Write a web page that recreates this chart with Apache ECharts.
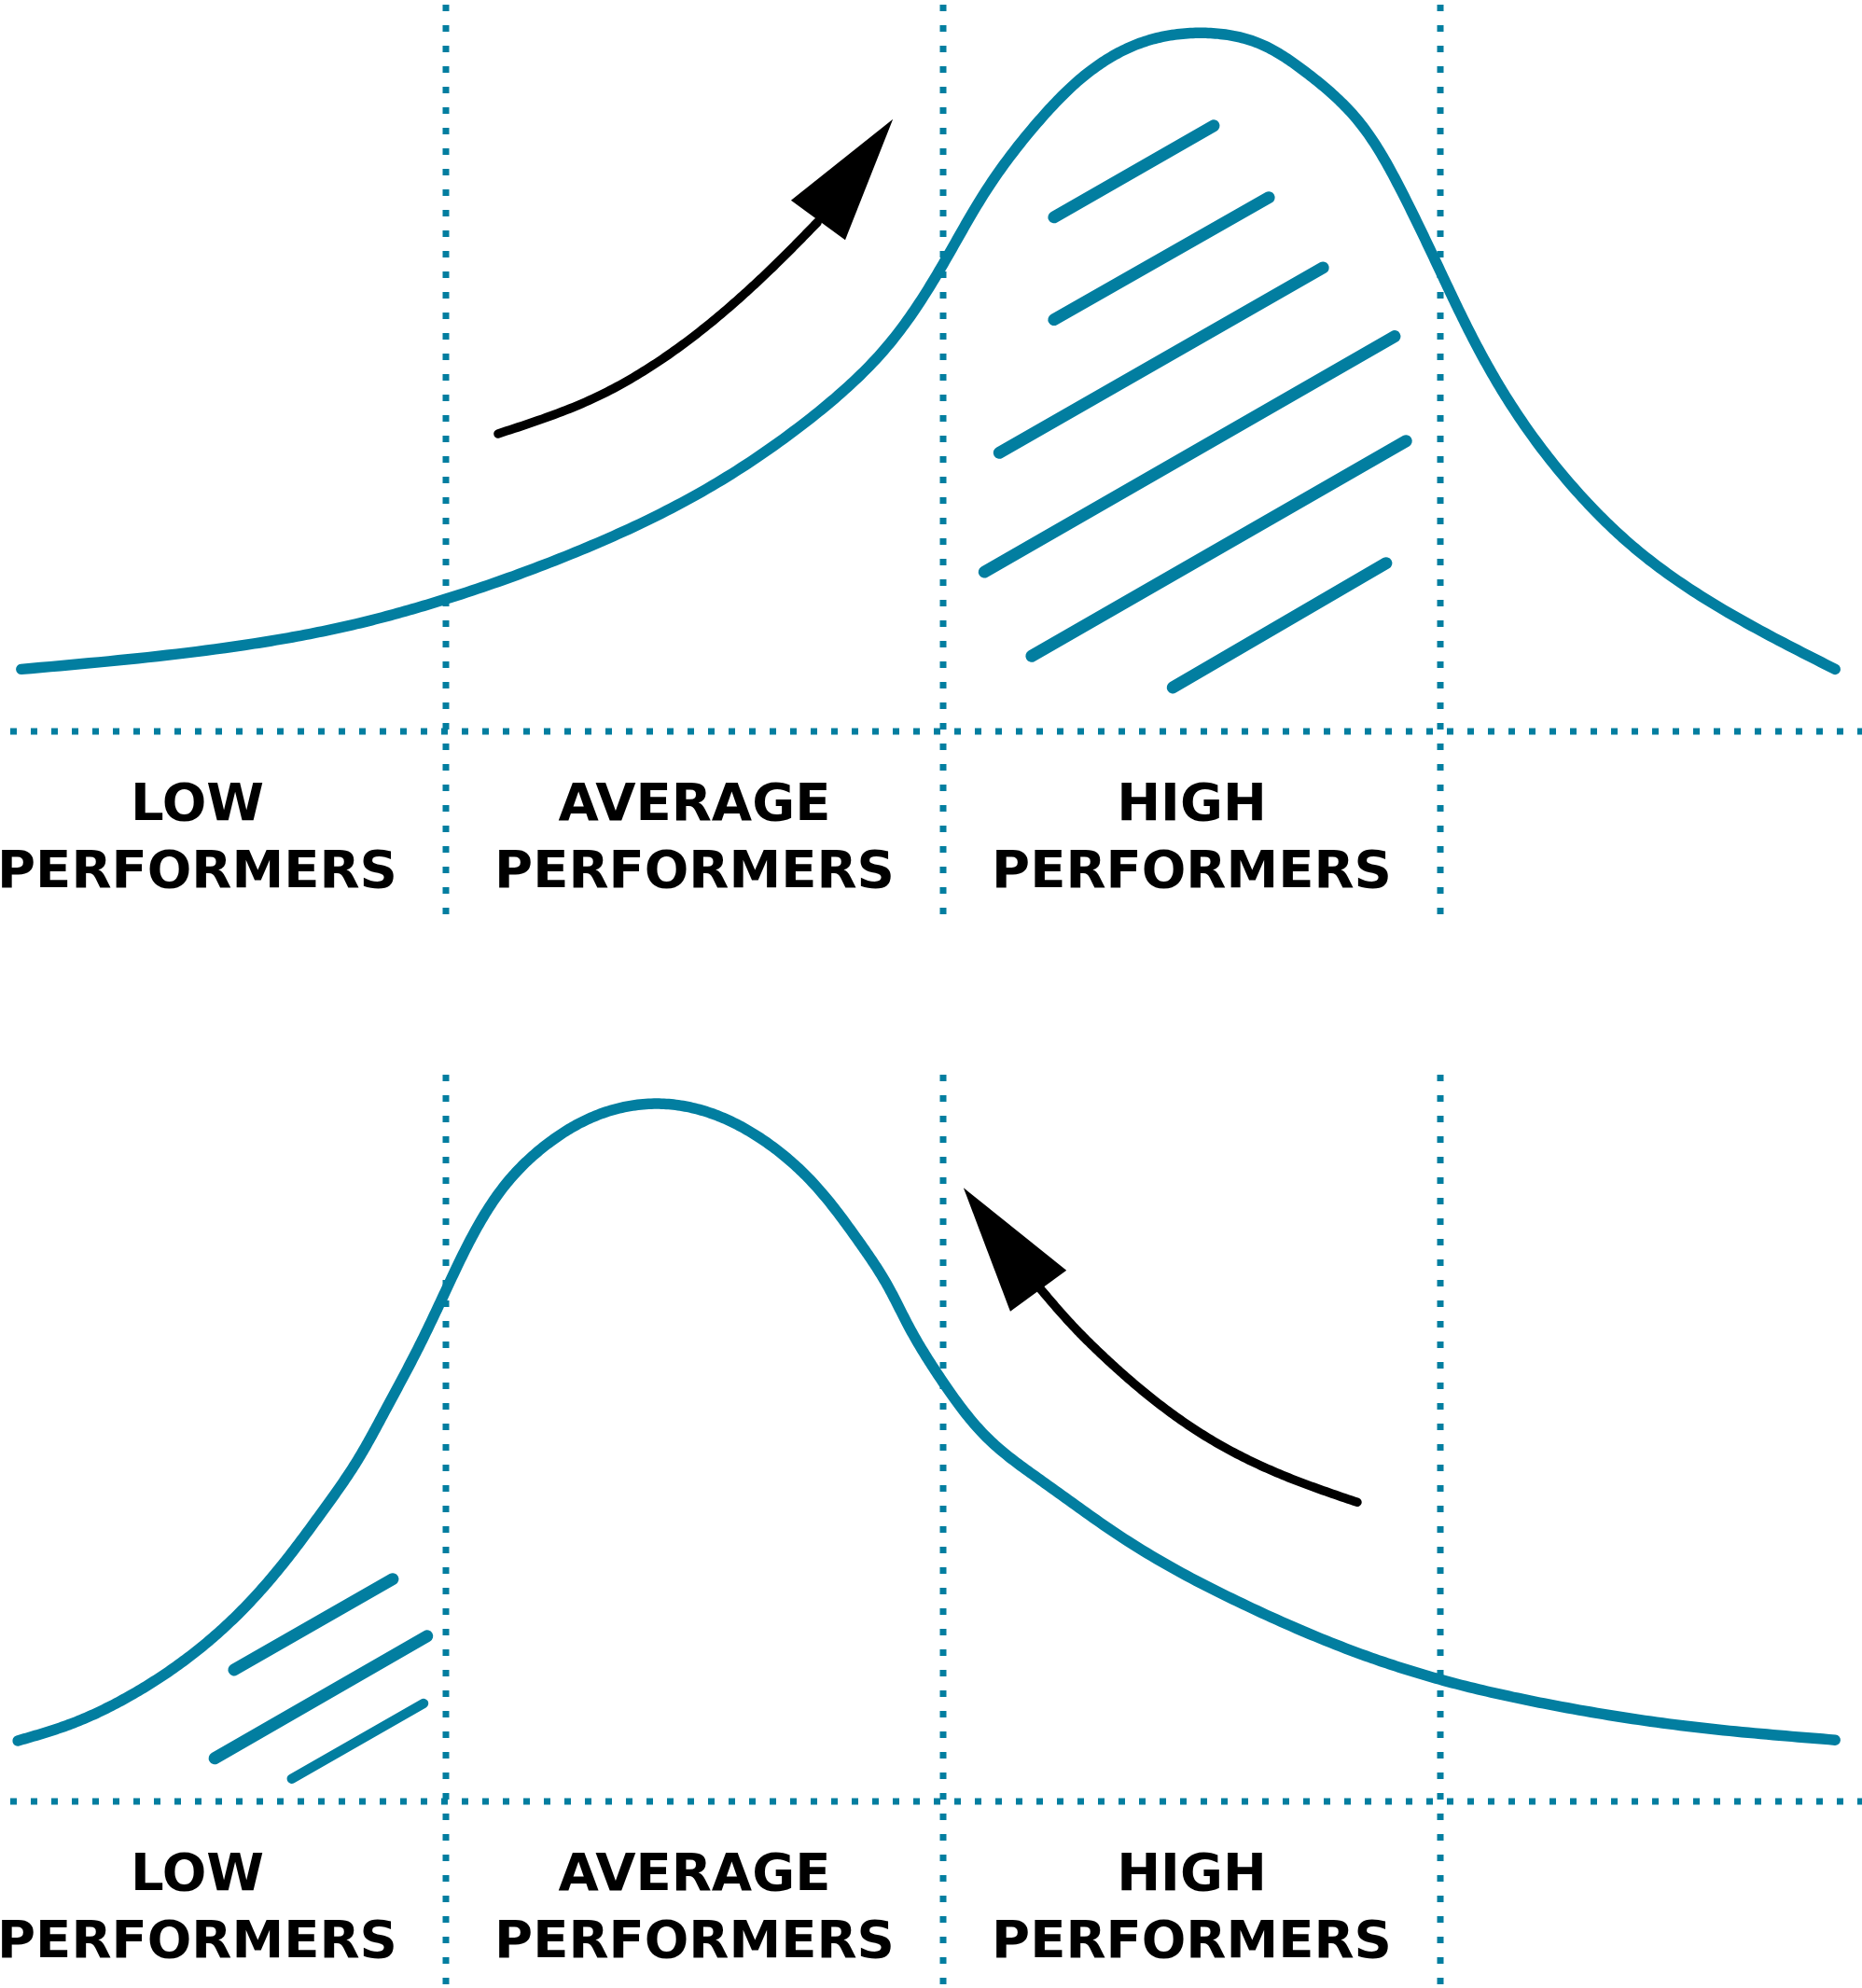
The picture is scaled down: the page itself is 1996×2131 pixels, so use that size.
<!DOCTYPE html>
<html>
<head>
<meta charset="utf-8">
<script src="https://cdn.jsdelivr.net/npm/echarts@6/dist/echarts.min.js"></script>
<style>
html,body{margin:0;padding:0;background:#fff;}
#chart{width:1996px;height:2131px;}
</style>
</head>
<body>
<div id="chart"></div>
<script>
// ---- data (x: performance band units, boundaries at 1,2,3; y: relative share) ----
const boundaries = [1, 2, 3];
const groupCenters = [0.5, 1.5, 2.5];
const groupLabels = ['LOW\nPERFORMERS', 'AVERAGE\nPERFORMERS', 'HIGH\nPERFORMERS'];

const topCurve = [
  [0.146, 8.5], [0.614, 12.0], [0.820, 14.7], [1.000, 18.1], [1.250, 24.2], [1.505, 32.4],
  [1.735, 42.9], [1.887, 52.6], [2.000, 63.9], [2.086, 73.9], [2.193, 83.5], [2.298, 90.4],
  [2.396, 94.1], [2.518, 95.5], [2.634, 94.1], [2.730, 90.1], [2.831, 83.8], [2.917, 74.5],
  [3.000, 62.9], [3.068, 53.4], [3.137, 45.2], [3.280, 32.4], [3.392, 25.0], [3.570, 16.6],
  [3.794, 8.5]
];
const bottomCurve = [
  [0.139, 8.3], [0.246, 10.6], [0.366, 14.5], [0.486, 19.9], [0.582, 25.6], [0.675, 32.7],
  [0.749, 39.4], [0.820, 46.4], [0.880, 53.7], [0.940, 61.4], [0.998, 69.6], [1.058, 77.9],
  [1.129, 85.1], [1.210, 90.2], [1.296, 93.6], [1.424, 95.4], [1.537, 94.0], [1.632, 90.7],
  [1.728, 85.3], [1.829, 76.7], [1.886, 70.8], [1.932, 64.8], [1.998, 57.5], [2.092, 49.5],
  [2.205, 43.5], [2.371, 35.6], [2.612, 26.7], [2.850, 19.9], [2.998, 16.7], [3.208, 13.4],
  [3.495, 10.3], [3.794, 8.4]
];

const topHatch = [
  [[2.223, 70.3], [2.544, 82.8]],
  [[2.223, 56.3], [2.655, 73.0]],
  [[2.113, 38.1], [2.764, 63.4]],
  [[2.083, 21.8], [2.908, 54.0]],
  [[2.178, 10.3], [2.931, 39.7]],
  [[2.462, 6.0], [2.891, 23.0]]
];
const bottomHatch = [
  [[0.574, 18.0], [0.893, 30.4]],
  [[0.535, 5.9], [0.962, 22.6]],
  [[0.690, 3.1], [0.955, 13.4]]
];
const bottomHatchWidths = [13, 13, 10.5];

const topArrowShaft = [[1.105, 40.7], [1.296, 45.5], [1.454, 51.8], [1.585, 58.9], [1.679, 64.9], [1.747, 69.6]];
const topArrowHead = [[1.899, 83.7, 1.694, 72.6, 1.803, 67.2]];
const bottomArrowShaft = [[2.833, 40.9], [2.683, 44.6], [2.538, 49.5], [2.420, 55.1], [2.325, 60.7], [2.253, 65.6], [2.193, 70.3]];
const bottomArrowHead = [[2.041, 83.9, 2.135, 67.0, 2.248, 72.6]];

// ---- styling ----
const TEAL = '#027ea0';
const X_MIN = 0.1032, X_MAX = 3.848;
const Y_MIN = -25, Y_MAX = 100;
const LABEL_Y = -14.8;

function dotted(gi, data) {
  return {
    type: 'line', xAxisIndex: gi, yAxisIndex: gi, data: data,
    showSymbol: false, silent: true, animation: false, z: 1,
    lineStyle: { color: TEAL, width: 7, type: [7, 15], cap: 'butt' }
  };
}
function straight(gi, data, color, width) {
  return {
    type: 'line', xAxisIndex: gi, yAxisIndex: gi, data: data,
    showSymbol: false, silent: true, animation: false, z: 3,
    lineStyle: { color: color, width: width, cap: 'round', join: 'round' }
  };
}
// natural cubic spline second derivatives
function splineM(t, v) {
  const n = t.length, M = new Array(n).fill(0);
  if (n < 3) return M;
  const a = [], b = [], c = [], d = [];
  for (let i = 1; i < n - 1; i++) {
    const h0 = t[i] - t[i - 1], h1 = t[i + 1] - t[i];
    a.push(h0); b.push(2 * (h0 + h1)); c.push(h1);
    d.push(6 * ((v[i + 1] - v[i]) / h1 - (v[i] - v[i - 1]) / h0));
  }
  const m = b.length;
  for (let i = 1; i < m; i++) {
    const w = a[i] / b[i - 1];
    b[i] -= w * c[i - 1]; d[i] -= w * d[i - 1];
  }
  const x = new Array(m);
  x[m - 1] = d[m - 1] / b[m - 1];
  for (let i = m - 2; i >= 0; i--) x[i] = (d[i] - c[i] * x[i + 1]) / b[i];
  for (let i = 0; i < m; i++) M[i + 1] = x[i];
  return M;
}
function evalSpline(t, v, M, i, tt) {
  const h = t[i + 1] - t[i], A = t[i + 1] - tt, B = tt - t[i];
  return M[i] * A * A * A / (6 * h) + M[i + 1] * B * B * B / (6 * h)
    + (v[i] / h - M[i] * h / 6) * A + (v[i + 1] / h - M[i + 1] * h / 6) * B;
}
// smooth curve through the data points (natural cubic spline, chord-length parameter, pixel space)
function spline(gi, data, color, width) {
  return {
    type: 'custom', xAxisIndex: gi, yAxisIndex: gi, data: data, silent: true, animation: false, z: 3,
    encode: { x: 0, y: 1 },
    renderItem: function (params, api) {
      const n = params.dataInsideLength;
      if (params.dataIndexInside !== 0) return { type: 'group', children: [] };
      const P = [];
      for (let k = 0; k < n; k++) P.push(api.coord([api.value(0, k), api.value(1, k)]));
      const t = [0];
      for (let k = 1; k < n; k++) t.push(t[k - 1] + Math.hypot(P[k][0] - P[k - 1][0], P[k][1] - P[k - 1][1]));
      const xs = P.map(p => p[0]), ys = P.map(p => p[1]);
      const Mx = splineM(t, xs), My = splineM(t, ys);
      const pts = [];
      for (let i = 0; i < n - 1; i++) {
        const steps = 24;
        for (let s = 0; s < steps; s++) {
          const tt = t[i] + (t[i + 1] - t[i]) * s / steps;
          pts.push([evalSpline(t, xs, Mx, i, tt), evalSpline(t, ys, My, i, tt)]);
        }
      }
      pts.push(P[n - 1]);
      return {
        type: 'polyline', shape: { points: pts },
        style: { stroke: color, lineWidth: width, fill: null, lineCap: 'round', lineJoin: 'round' }
      };
    }
  };
}
function head(gi, data) {
  return {
    type: 'custom', xAxisIndex: gi, yAxisIndex: gi, data: data, silent: true, animation: false, z: 4,
    encode: { x: [0, 2, 4], y: [1, 3, 5] },
    renderItem: function (params, api) {
      const p = [api.coord([api.value(0), api.value(1)]),
                 api.coord([api.value(2), api.value(3)]),
                 api.coord([api.value(4), api.value(5)])];
      return { type: 'polygon', shape: { points: p }, style: { fill: '#000' } };
    }
  };
}
function labels(gi) {
  return {
    type: 'scatter', xAxisIndex: gi, yAxisIndex: gi, symbolSize: 0, silent: true, animation: false,
    itemStyle: { opacity: 1 },
    data: groupCenters.map((x, i) => ({ value: [x, LABEL_Y], name: groupLabels[i] })),
    label: {
      show: true, position: 'inside', formatter: p => p.name, opacity: 1,
      fontFamily: 'DejaVu Sans', fontWeight: 'bold', fontSize: 56, lineHeight: 72,
      color: '#000000', align: 'center', verticalAlign: 'middle'
    }
  };
}

function panel(gi, curve, hatch, hatchWidths, shaft, arrowHead) {
  const s = [];
  boundaries.forEach(b => s.push(dotted(gi, [[b, Y_MIN], [b, Y_MAX]])));
  const h = dotted(gi, [[X_MIN, 0], [X_MAX, 0]]);
  h.lineStyle.dashOffset = 11;
  s.push(h);
  s.push(spline(gi, curve, TEAL, 11.5));
  hatch.forEach((seg, i) => s.push(straight(gi, seg, TEAL, hatchWidths[i])));
  s.push(spline(gi, shaft, '#000', 9.5));
  s.push(head(gi, arrowHead));
  s.push(labels(gi));
  return s;
}

const chart = echarts.init(document.getElementById('chart'), null, { renderer: 'canvas' });
const axX = gi => ({ type: 'value', gridIndex: gi, min: X_MIN, max: X_MAX, show: false });
const axY = gi => ({ type: 'value', gridIndex: gi, min: Y_MIN, max: Y_MAX, show: false });
chart.setOption({
  animation: false,
  backgroundColor: '#fff',
  grid: [
    { left: 0, width: 1996, top: 0, height: 980 },
    { left: 0, width: 1996, top: 1147, height: 980 }
  ],
  xAxis: [axX(0), axX(1)],
  yAxis: [axY(0), axY(1)],
  series: [].concat(
    panel(0, topCurve, topHatch, topHatch.map(() => 13), topArrowShaft, topArrowHead),
    panel(1, bottomCurve, bottomHatch, bottomHatchWidths, bottomArrowShaft, bottomArrowHead)
  )
});
</script>
</body>
</html>
